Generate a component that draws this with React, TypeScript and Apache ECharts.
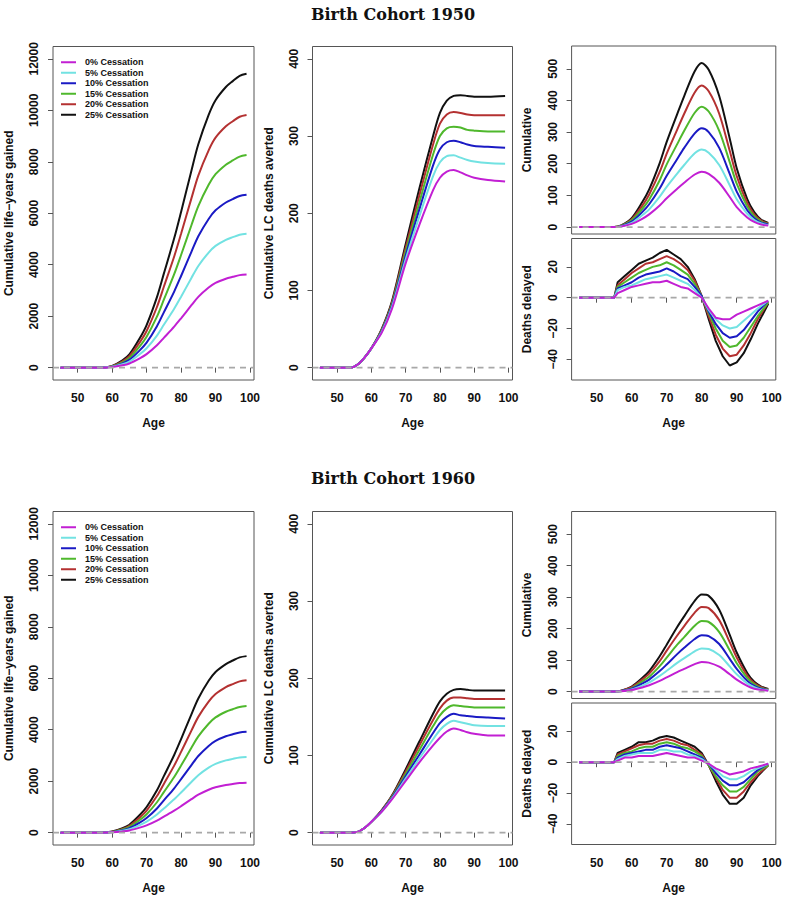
import React, { useEffect, useRef } from 'react';
import * as echarts from 'echarts';

const NAMES = ['0% Cessation', '5% Cessation', '10% Cessation', '15% Cessation', '20% Cessation', '25% Cessation'];
const COLORS = ['#C21FD3', '#72E2E2', '#1A1AC4', '#4FB82C', '#B43131', '#111111'];

const TITLES = ['Birth Cohort 1950', 'Birth Cohort 1960'];
const X_TICKS = [50, 60, 70, 80, 90, 100];
const LY_TICKS = [0, 2000, 4000, 6000, 8000, 10000, 12000];
const LC_TICKS = [0, 100, 200, 300, 400];
const CUM_TICKS = [0, 100, 200, 300, 400, 500];
const DD_TICKS = [-40, -20, 0, 20];

// Ages at which values were read
const AGES_LY = [45, 50, 55, 57, 60, 63, 65, 68, 70, 73, 75, 78, 80, 83, 85, 88, 90, 93, 95, 97, 99];
const AGES_LC = [45, 54, 56, 58, 60, 63, 66, 70, 74, 78, 80, 82, 84, 86, 88, 90, 94, 99];
const AGES_CUM = [45, 50, 55, 57, 60, 63, 65, 68, 70, 73, 75, 78, 80, 82, 85, 88, 90, 93, 95, 97, 99];
const AGES_DD = [45, 55, 56, 58, 60, 62, 64, 66, 68, 70, 72, 74, 76, 78, 80, 82, 84, 86, 88, 90, 92, 94, 96, 99];

// ---------- Birth cohort 1950 ----------
const LY1950 = [
  [0, 0, 0, 0, 22, 90, 163, 362, 525, 869, 1158, 1593, 1919, 2425, 2751, 3113, 3294, 3457, 3530, 3595, 3620],
  [0, 0, 0, 0, 31, 130, 234, 520, 754, 1248, 1664, 2288, 2756, 3484, 3952, 4472, 4732, 4966, 5070, 5164, 5200],
  [0, 0, 0, 0, 40, 168, 302, 672, 974, 1613, 2150, 2957, 3562, 4502, 5107, 5779, 6115, 6418, 6552, 6673, 6720],
  [0, 0, 0, 0, 50, 207, 372, 826, 1198, 1982, 2643, 3634, 4378, 5534, 6278, 7104, 7517, 7888, 8054, 8202, 8260],
  [0, 0, 0, 0, 59, 246, 442, 982, 1424, 2357, 3142, 4321, 5205, 6579, 7463, 8445, 8936, 9378, 9575, 9751, 9820],
  [0, 0, 0, 0, 69, 286, 514, 1142, 1656, 2741, 3654, 5025, 6053, 7651, 8679, 9821, 10392, 10906, 11135, 11340, 11420],
];
const LC1950 = [
  [0, 0, 4, 13, 25, 45, 76, 135, 185, 230, 246, 254, 256, 253, 249, 246, 243, 241],
  [0, 0, 4, 13, 25, 46, 78, 140, 196, 248, 266, 274, 275, 272, 269, 267, 265, 264],
  [0, 0, 4, 13, 25, 47, 80, 145, 205, 262, 283, 292, 294, 292, 289, 287, 286, 285],
  [0, 0, 4, 13, 25, 48, 82, 150, 214, 276, 300, 310, 312, 311, 308, 307, 306, 306],
  [0, 0, 4, 13, 25, 49, 84, 155, 223, 289, 316, 328, 331, 330, 328, 327, 327, 327],
  [0, 0, 4, 13, 25, 50, 86, 160, 232, 300, 330, 346, 352, 353, 352, 351, 351, 352],
];
const CUM1950 = [
  [0, 0, 0, 2, 10, 26, 40, 68, 91, 121, 140, 166, 175, 168, 140, 95, 63, 30, 16, 8, 5],
  [0, 0, 0, 2, 13, 37, 56, 96, 127, 169, 196, 233, 245, 235, 196, 132, 88, 42, 22, 11, 6],
  [0, 0, 0, 3, 17, 47, 72, 122, 162, 215, 250, 296, 312, 300, 250, 168, 112, 53, 28, 14, 8],
  [0, 0, 0, 4, 21, 57, 87, 148, 198, 262, 304, 361, 380, 365, 304, 205, 137, 65, 34, 17, 10],
  [0, 0, 0, 4, 25, 67, 103, 174, 232, 308, 358, 425, 447, 429, 358, 241, 161, 76, 40, 20, 11],
  [0, 0, 0, 5, 28, 78, 119, 202, 269, 357, 414, 492, 518, 497, 414, 280, 186, 88, 47, 23, 13],
];
const DD1950 = [
  [0, 0, 3, 5, 7, 8, 9, 10, 10, 11, 9, 7, 6, 3, 0, -7, -13, -14, -14, -11, -9, -7, -5, -2],
  [0, 0, 5, 7, 8, 10, 12, 13, 14, 15, 13, 11, 9, 5, 0, -8, -14, -18, -20, -19, -15, -11, -7, -2],
  [0, 0, 6, 8, 10, 13, 15, 16, 17, 19, 17, 14, 12, 7, 1, -9, -17, -23, -26, -25, -21, -15, -9, -2],
  [0, 0, 7, 10, 13, 16, 18, 20, 21, 23, 21, 18, 15, 9, 1, -10, -20, -28, -32, -31, -26, -19, -12, -3],
  [0, 0, 8, 12, 16, 19, 22, 23, 25, 27, 25, 22, 18, 11, 1, -12, -24, -33, -38, -37, -31, -23, -14, -3],
  [0, 0, 10, 14, 18, 22, 24, 26, 29, 31, 28, 25, 20, 12, 1, -14, -28, -38, -44, -42, -36, -27, -17, -4],
];

// ---------- Birth cohort 1960 ----------
const LY1960 = [
  [0, 0, 0, 0, 12, 49, 87, 194, 281, 466, 621, 854, 1028, 1300, 1474, 1668, 1765, 1853, 1892, 1926, 1940],
  [0, 0, 0, 0, 18, 74, 132, 294, 426, 706, 941, 1294, 1558, 1970, 2234, 2528, 2675, 2808, 2867, 2919, 2940],
  [0, 0, 0, 0, 24, 98, 176, 392, 568, 941, 1254, 1725, 2078, 2626, 2979, 3371, 3567, 3744, 3822, 3893, 3920],
  [0, 0, 0, 0, 30, 123, 221, 492, 713, 1181, 1574, 2165, 2608, 3296, 3739, 4231, 4477, 4699, 4797, 4886, 4920],
  [0, 0, 0, 0, 36, 148, 266, 592, 858, 1421, 1894, 2605, 3138, 3966, 4499, 5091, 5387, 5654, 5772, 5879, 5920],
  [0, 0, 0, 0, 41, 172, 309, 686, 995, 1646, 2195, 3018, 3636, 4596, 5214, 5900, 6243, 6551, 6689, 6812, 6860],
];
const LC1960 = [
  [0, 0, 1, 6, 14, 27, 43, 67, 91, 113, 123, 131, 135, 133, 130, 128, 126, 126],
  [0, 0, 1, 6, 14, 27, 44, 70, 96, 121, 133, 141, 145, 143, 141, 139, 138, 138],
  [0, 0, 1, 6, 14, 28, 45, 73, 101, 129, 142, 150, 154, 152, 151, 150, 149, 148],
  [0, 0, 1, 6, 14, 28, 46, 76, 107, 138, 152, 161, 165, 164, 163, 162, 162, 162],
  [0, 0, 1, 6, 14, 29, 47, 79, 113, 146, 161, 171, 175, 175, 174, 173, 173, 173],
  [0, 0, 1, 6, 14, 29, 48, 82, 118, 154, 170, 180, 185, 186, 185, 184, 184, 184],
];
const CUM1960 = [
  [0, 0, 0, 1, 5, 13, 20, 34, 45, 62, 72, 87, 94, 92, 79, 55, 38, 18, 9, 5, 3],
  [0, 0, 0, 1, 7, 19, 29, 50, 66, 91, 106, 128, 137, 135, 116, 80, 55, 26, 14, 7, 4],
  [0, 0, 0, 2, 9, 25, 38, 65, 86, 119, 139, 167, 179, 176, 151, 104, 72, 34, 18, 9, 5],
  [0, 0, 0, 2, 11, 32, 47, 81, 108, 149, 173, 209, 224, 221, 189, 131, 90, 43, 23, 11, 6],
  [0, 0, 0, 3, 14, 38, 57, 97, 130, 178, 208, 251, 269, 265, 227, 157, 108, 51, 27, 14, 7],
  [0, 0, 0, 3, 16, 43, 65, 112, 149, 205, 239, 288, 308, 304, 260, 180, 124, 59, 31, 16, 8],
];
const DD1960 = [
  [0, 0, 1, 3, 3, 4, 4, 4, 5, 6, 5, 4, 3, 3, 1, -1, -4, -6, -8, -7, -6, -4, -3, -1],
  [0, 0, 2, 4, 5, 6, 6, 6, 8, 8, 7, 7, 5, 4, 2, -1, -5, -9, -11, -11, -9, -6, -4, -1],
  [0, 0, 3, 5, 6, 7, 8, 8, 10, 11, 10, 9, 7, 5, 3, -1, -7, -12, -15, -15, -13, -9, -5, -1],
  [0, 0, 4, 6, 7, 9, 10, 10, 12, 13, 12, 10, 9, 7, 4, -2, -9, -15, -19, -19, -16, -11, -6, -2],
  [0, 0, 5, 7, 9, 11, 12, 12, 14, 15, 14, 12, 11, 8, 5, -2, -10, -18, -23, -23, -19, -13, -8, -2],
  [0, 0, 6, 8, 10, 13, 13, 14, 16, 17, 16, 14, 12, 10, 6, -2, -12, -21, -27, -27, -23, -15, -9, -2],
];

const X_MIN = 42.84;
const X_MAX = 101.16;
const FONT = 'Liberation Sans, Arial, sans-serif';

type PanelSpec = {
  grid: { left: number; top: number; width: number; height: number };
  ages: number[];
  data: number[][];
  smooth: boolean;
  yMin: number;
  yMax: number;
  yTicks: number[];
  yName: string;
  nameGap: number;
  showX: boolean;
};

export default function App() {
  const ref = useRef<HTMLDivElement>(null);

  useEffect(() => {
    document.body.style.margin = '0';
    const chart = echarts.init(ref.current as HTMLDivElement, null, { renderer: 'svg' });

    const rows = [
      { top: 46.5, ly: LY1950, lc: LC1950, cum: CUM1950, dd: DD1950, rt: 46, rth: 188, rb: 238.5, rbh: 141.5, h: 333.5 },
      { top: 511.5, ly: LY1960, lc: LC1960, cum: CUM1960, dd: DD1960, rt: 511.5, rth: 187, rb: 703, rbh: 141.5, h: 333.5 },
    ];

    const panels: PanelSpec[] = [];
    rows.forEach((r) => {
      panels.push({
        grid: { left: 53, top: r.top, width: 201, height: r.h },
        ages: AGES_LY, data: r.ly, smooth: true,
        yMin: -480, yMax: 12480, yTicks: LY_TICKS,
        yName: 'Cumulative life\u2212years gained', nameGap: 38, showX: true,
      });
      panels.push({
        grid: { left: 312.5, top: r.top, width: 200, height: r.h },
        ages: AGES_LC, data: r.lc, smooth: true,
        yMin: -16, yMax: 416, yTicks: LC_TICKS,
        yName: 'Cumulative LC deaths averted', nameGap: 38, showX: true,
      });
      panels.push({
        grid: { left: 571.6, top: r.rt, width: 204.2, height: r.rth },
        ages: AGES_CUM, data: r.cum, smooth: true,
        yMin: -22, yMax: 572, yTicks: CUM_TICKS,
        yName: 'Cumulative', nameGap: 39, showX: false,
      });
      panels.push({
        grid: { left: 571.6, top: r.rb, width: 204.2, height: r.rbh },
        ages: AGES_DD, data: r.dd, smooth: false,
        yMin: -53.4, yMax: 38.4, yTicks: DD_TICKS,
        yName: 'Deaths delayed', nameGap: 39, showX: true,
      });
    });

    const labelStyle = { fontFamily: FONT, fontWeight: 'bold' as const, fontSize: 12, color: '#111' };
    const minus = (v: number) => String(v).replace('-', '\u2212');

    const grid = panels.map((p) => ({
      ...p.grid,
      show: true,
      borderColor: '#555',
      borderWidth: 1,
      backgroundColor: 'transparent',
      containLabel: false,
    }));

    const xAxis = panels.map((p, i) => ({
      type: 'value',
      gridIndex: i,
      min: X_MIN,
      max: X_MAX,
      splitLine: { show: false },
      axisLine: { show: false },
      axisTick: { show: p.showX, length: 5, customValues: X_TICKS, lineStyle: { color: '#555' } },
      axisLabel: { show: p.showX, customValues: X_TICKS, margin: 12, ...labelStyle },
      name: p.showX ? 'Age' : '',
      nameLocation: 'middle',
      nameGap: 37,
      nameTextStyle: { ...labelStyle },
    }));

    const yAxis = panels.map((p, i) => ({
      type: 'value',
      gridIndex: i,
      min: p.yMin,
      max: p.yMax,
      splitLine: { show: false },
      axisLine: { show: false },
      axisTick: { show: true, length: 5, customValues: p.yTicks, lineStyle: { color: '#555' } },
      axisLabel: { customValues: p.yTicks, rotate: 90, margin: 13, formatter: minus, ...labelStyle },
      name: p.yName,
      nameLocation: 'middle',
      nameGap: p.nameGap,
      nameTextStyle: { ...labelStyle },
    }));

    const series: any[] = [];
    panels.forEach((p, i) => {
      for (let k = NAMES.length - 1; k >= 0; k--) {
        series.push({
          type: 'line',
          name: NAMES[k],
          xAxisIndex: i,
          yAxisIndex: i,
          data: p.ages.map((a, j) => [a, p.data[k][j]]),
          smooth: p.smooth ? 0.3 : false,
          showSymbol: false,
          symbol: 'none',
          color: COLORS[k],
          lineStyle: { color: COLORS[k], width: 2 },
          z: 2,
        });
      }
      series.push({
        type: 'line',
        name: 'zero',
        xAxisIndex: i,
        yAxisIndex: i,
        data: [[X_MIN, 0], [X_MAX, 0]],
        showSymbol: false,
        symbol: 'none',
        silent: true,
        color: '#A8A8A8',
        lineStyle: { color: '#A8A8A8', width: 1.8, type: [6, 5] },
        z: 3,
      });
    });

    const legendCommon = {
      data: NAMES,
      orient: 'vertical',
      left: 56,
      icon: 'rect',
      itemWidth: 15,
      itemHeight: 2,
      itemGap: 0,
      selectedMode: false,
      textStyle: { fontFamily: FONT, fontWeight: 'bold', fontSize: 9, color: '#111', lineHeight: 10.5, padding: [0, 0, 0, 4] },
    };

    const option = {
      animation: false,
      backgroundColor: '#fff',
      title: [
        { text: TITLES[0], left: 'center', top: 1, textStyle: { fontFamily: 'DejaVu Serif, serif', fontWeight: 'bold', fontSize: 16, color: '#111' } },
        { text: TITLES[1], left: 'center', top: 465, textStyle: { fontFamily: 'DejaVu Serif, serif', fontWeight: 'bold', fontSize: 16, color: '#111' } },
      ],
      legend: [
        { ...legendCommon, top: 52 },
        { ...legendCommon, top: 517 },
      ],
      grid,
      xAxis,
      yAxis,
      series,
    };

    chart.setOption(option as any);
    return () => chart.dispose();
  }, []);

  return <div ref={ref} style={{ width: 786, height: 900 }} />;
}
